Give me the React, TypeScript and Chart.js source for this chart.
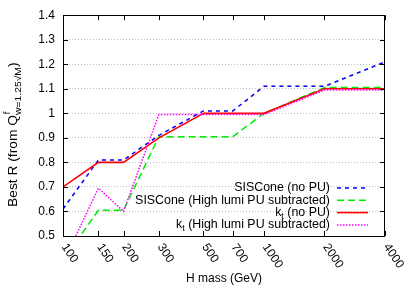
import React, { useEffect, useRef } from "react";
import { Chart, registerables } from "chart.js";

Chart.register(...registerables);

const massPoints = [100, 150, 200, 300, 500, 700, 1000, 2000, 4000];
const xTickLabels = ["100", "150", "200", "300", "500", "700", "1000", "2000", "4000"];
const sisconeNoPU = [0.61, 0.81, 0.81, 0.91, 1.01, 1.01, 1.11, 1.11, 1.21];
const sisconeHighLumi = [0.4, 0.605, 0.605, 0.905, 0.905, 0.905, 1.0, 1.105, 1.105];
const ktNoPU = [0.7, 0.8, 0.8, 0.9, 1.0, 1.0, 1.0, 1.1, 1.1];
const ktHighLumi = [0.39, 0.695, 0.6, 0.995, 0.995, 0.995, 0.995, 1.095, 1.095];

const FONT = "'Liberation Sans', Arial, Helvetica, sans-serif";

type LegendEntry = { main: string; sub?: string; rest?: string; color: string; dash: number[]; width: number };
const legendEntries: LegendEntry[] = [
  { main: "SISCone (no PU)", color: "#0000ff", dash: [4, 4], width: 1.5 },
  { main: "SISCone (High lumi PU subtracted)", color: "#00ee00", dash: [7, 4], width: 1.5 },
  { main: "k", sub: "t", rest: " (no PU)", color: "#ff0000", dash: [], width: 1.6 },
  { main: "k", sub: "t", rest: " (High lumi PU subtracted)", color: "#ff00ff", dash: [1.5, 1.5], width: 1.5 },
];

const decorPlugin = {
  id: "decor",
  afterDraw(chart: any) {
    const ctx: CanvasRenderingContext2D = chart.ctx;
    const { left, right, top, bottom } = chart.chartArea;
    const xs = chart.scales.x;
    const ys = chart.scales.y;
    ctx.save();
    // frame
    ctx.strokeStyle = "#000";
    ctx.lineWidth = 1;
    ctx.setLineDash([]);
    ctx.strokeRect(Math.round(left) + 0.5, Math.round(top) + 0.5, Math.round(right - left) - 1, Math.round(bottom - top));
    // ticks (inward, mirrored)
    const tl = 5;
    ctx.beginPath();
    massPoints.forEach((v) => {
      const px = Math.round(xs.getPixelForValue(v)) + 0.5;
      ctx.moveTo(px, bottom);
      ctx.lineTo(px, bottom - tl);
      ctx.moveTo(px, top);
      ctx.lineTo(px, top + tl);
    });
    ys.ticks.forEach((t: any) => {
      const py = Math.round(ys.getPixelForValue(t.value)) + 0.5;
      ctx.moveTo(left, py);
      ctx.lineTo(left + tl, py);
      ctx.moveTo(right, py);
      ctx.lineTo(right - tl, py);
    });
    ctx.stroke();
    // x tick labels, rotated
    ctx.fillStyle = "#000";
    ctx.font = `12px ${FONT}`;
    ctx.textAlign = "left";
    ctx.textBaseline = "middle";
    massPoints.forEach((v, i) => {
      const px = xs.getPixelForValue(v);
      ctx.save();
      ctx.translate(px + 1, bottom + 9);
      ctx.rotate((56 * Math.PI) / 180);
      ctx.fillText(xTickLabels[i], 0, 0);
      ctx.restore();
    });
    // x title
    ctx.textAlign = "center";
    ctx.textBaseline = "alphabetic";
    ctx.fillText("H mass (GeV)", (left + right) / 2, 282);
    // y title
    ctx.save();
    ctx.translate(17, 207);
    ctx.rotate(-Math.PI / 2);
    ctx.scale(1.15, 1);
    ctx.textAlign = "left";
    ctx.font = `12px ${FONT}`;
    const main = "Best R (from Q";
    ctx.fillText(main, 0, 0);
    const w = ctx.measureText(main).width;
    ctx.font = `9px ${FONT}`;
    ctx.fillText("f", w + 0.5, -7);
    ctx.fillText("w=1.25\u221AM", w, 3.5);
    const ws = ctx.measureText("w=1.25\u221AM").width;
    ctx.font = `12px ${FONT}`;
    ctx.fillText(")", w + ws, 0);
    ctx.restore();
    // legend
    const textRight = 330;
    const sx0 = 337;
    const sx1 = 368;
    const rowY = [188, 200.3, 212.6, 225];
    const lf = `12.4px ${FONT}`;
    const sf = `9px ${FONT}`;
    legendEntries.forEach((e, i) => {
      const y = rowY[i];
      ctx.font = lf;
      ctx.fillStyle = "#000";
      ctx.textBaseline = "middle";
      ctx.textAlign = "left";
      const wMain = ctx.measureText(e.main).width;
      let wSub = 0;
      if (e.sub) {
        ctx.font = sf;
        wSub = ctx.measureText(e.sub).width;
      }
      ctx.font = lf;
      const wRest = e.rest ? ctx.measureText(e.rest).width : 0;
      let x = textRight - (wMain + wSub + wRest);
      ctx.fillText(e.main, x, y);
      x += wMain;
      if (e.sub) {
        ctx.font = sf;
        ctx.fillText(e.sub, x, y + 4);
        x += wSub;
        ctx.font = lf;
      }
      if (e.rest) ctx.fillText(e.rest, x, y);
      ctx.strokeStyle = e.color;
      ctx.lineWidth = e.width;
      ctx.setLineDash(e.dash);
      ctx.beginPath();
      ctx.moveTo(sx0, y);
      ctx.lineTo(sx1, y);
      ctx.stroke();
      ctx.setLineDash([]);
    });
    ctx.restore();
  },
};

function makeData(vals: number[]) {
  return massPoints.map((x, i) => ({ x, y: vals[i] }));
}

export default function App() {
  const canvasRef = useRef<HTMLCanvasElement | null>(null);
  useEffect(() => {
    if (!canvasRef.current) return;
    Chart.defaults.font.family = FONT;
    Chart.defaults.font.size = 12;
    Chart.defaults.color = "#000";
    const chart = new Chart(canvasRef.current, {
      type: "line",
      data: {
        datasets: [
          { label: "SISCone (no PU)", data: makeData(sisconeNoPU), borderColor: "#0000ff", borderDash: [4, 4], borderWidth: 1.5, pointRadius: 0, fill: false, tension: 0, order: 4 },
          { label: "SISCone (High lumi PU subtracted)", data: makeData(sisconeHighLumi), borderColor: "#00ee00", borderDash: [7, 4], borderWidth: 1.5, pointRadius: 0, fill: false, tension: 0, order: 3 },
          { label: "kt (no PU)", data: makeData(ktNoPU), borderColor: "#ff0000", borderWidth: 1.6, pointRadius: 0, fill: false, tension: 0, order: 2 },
          { label: "kt (High lumi PU subtracted)", data: makeData(ktHighLumi), borderColor: "#ff00ff", borderDash: [1.5, 1.5], borderWidth: 1.5, pointRadius: 0, fill: false, tension: 0, order: 1 },
        ],
      },
      options: {
        animation: false,
        responsive: true,
        maintainAspectRatio: false,
        layout: { padding: { left: 0, right: 22, top: 15, bottom: 49 } },
        plugins: { legend: { display: false }, tooltip: { enabled: false } },
        scales: {
          x: {
            type: "logarithmic",
            min: 100,
            max: 4000,
            afterBuildTicks: (scale: any) => {
              scale.ticks = massPoints.map((v) => ({ value: v }));
            },
            ticks: { display: false },
            grid: { display: false, drawTicks: false },
            border: { display: false },
            afterFit: (scale: any) => {
              scale.height = 0;
            },
          },
          y: {
            type: "linear",
            min: 0.5,
            max: 1.4,
            ticks: {
              stepSize: 0.1,
              padding: 8,
              font: { size: 12, family: FONT },
              color: "#000",
              callback: (v: any) => String(Math.round(Number(v) * 10) / 10),
            },
            grid: { color: "#bdbdbd", lineWidth: 1, drawTicks: false },
            border: { display: false, dash: [1, 2] },
            afterFit: (scale: any) => {
              scale.width = 63;
            },
          },
        },
      },
      plugins: [decorPlugin],
    });
    return () => chart.destroy();
  }, []);
  return (
    <div style={{ position: "absolute", left: 0, top: 0, width: 407, height: 285, background: "#fff" }}>
      <canvas ref={canvasRef} />
    </div>
  );
}
